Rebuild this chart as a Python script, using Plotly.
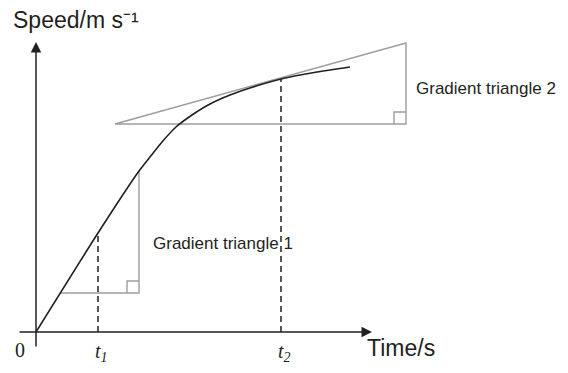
import plotly.graph_objects as go

# speed-time curve (arbitrary units, origin at 0,0)
time = [0, 6.2, 10.3, 11.4, 12.6, 14.0, 15.6, 17.4, 19.4, 21.7, 24.5, 28.1, 31.4]
speed = [0, 9.9, 16.1, 17.5, 19.0, 20.5, 21.7, 22.8, 23.7, 24.5, 25.3, 26.0, 26.5]

# instants where gradients are taken
t_marks = [6.2, 24.5]
t_speeds = [9.9, 25.3]
t_labels = ["t<sub>1</sub>", "t<sub>2</sub>"]

# gradient triangles: corners (x0, x1) and (y0, y1)
tri1_x = [2.4, 10.3]
tri1_y = [3.9, 16.1]
tri2_x = [7.9, 37.0]
tri2_y = [20.8, 28.9]
sq = 1.2  # right-angle box

# axis extents
xaxis_ext = [-1.8, 33.6]
yaxis_ext = [-1.6, 29.0]

BLACK = "#231f20"
GREY = "#9d9d9d"
SANS = "Liberation Sans, Arial, sans-serif"
SERIF = "Liberation Serif, Times New Roman, serif"

fig = go.Figure()

# triangle 1 (hypotenuse is the curve itself)
fig.add_trace(go.Scatter(
    x=[tri1_x[0], tri1_x[1], tri1_x[1]], y=[tri1_y[0], tri1_y[0], tri1_y[1]],
    mode="lines", line=dict(color=GREY, width=1.4), hoverinfo="skip"))
fig.add_trace(go.Scatter(
    x=[tri1_x[1] - sq, tri1_x[1] - sq, tri1_x[1]], y=[tri1_y[0], tri1_y[0] + sq, tri1_y[0] + sq],
    mode="lines", line=dict(color=GREY, width=1.4), hoverinfo="skip"))

# triangle 2 (tangent at t2)
fig.add_trace(go.Scatter(
    x=[tri2_x[0], tri2_x[1], tri2_x[1], tri2_x[0]], y=[tri2_y[0], tri2_y[0], tri2_y[1], tri2_y[0]],
    mode="lines", line=dict(color=GREY, width=1.4), hoverinfo="skip"))
fig.add_trace(go.Scatter(
    x=[tri2_x[1] - sq, tri2_x[1] - sq, tri2_x[1]], y=[tri2_y[0], tri2_y[0] + sq, tri2_y[0] + sq],
    mode="lines", line=dict(color=GREY, width=1.4), hoverinfo="skip"))

# dashed drop lines
for tx, ty in zip(t_marks, t_speeds):
    fig.add_trace(go.Scatter(
        x=[tx, tx], y=[0, ty], mode="lines",
        line=dict(color=BLACK, width=1.5, dash="6px,4px"), hoverinfo="skip"))

# the curve
fig.add_trace(go.Scatter(
    x=time, y=speed, mode="lines", line=dict(color=BLACK, width=1.6, shape="spline", smoothing=0.6),
    hoverinfo="skip"))

# axes with arrows
fig.add_annotation(x=xaxis_ext[1], y=0, ax=xaxis_ext[0], ay=0, xref="x", yref="y",
                   axref="x", ayref="y", text="", showarrow=True, arrowhead=2,
                   arrowsize=1.4, arrowwidth=1.5, arrowcolor=BLACK)
fig.add_annotation(x=0, y=yaxis_ext[1], ax=0, ay=yaxis_ext[0], xref="x", yref="y",
                   axref="x", ayref="y", text="", showarrow=True, arrowhead=2,
                   arrowsize=1.4, arrowwidth=1.5, arrowcolor=BLACK)

# labels
fig.add_annotation(x=-2.5, y=31.2, text="Speed/m s\u207b\u00b9", showarrow=False,
                   xanchor="left", yanchor="middle", font=dict(family=SANS, size=23, color=BLACK))
fig.add_annotation(x=32.9, y=-1.55, text="Time/s", showarrow=False,
                   xanchor="left", yanchor="middle", font=dict(family=SANS, size=23, color=BLACK))
fig.add_annotation(x=-1.6, y=-1.8, text="0", showarrow=False,
                   xanchor="center", yanchor="middle", font=dict(family=SERIF, size=20, color=BLACK))
for tx, lab in zip(t_marks, t_labels):
    fig.add_annotation(x=tx - 0.5, y=-2.0, text="<i>" + lab + "</i>", showarrow=False,
                       xanchor="left", yanchor="middle", font=dict(family=SERIF, size=20, color=BLACK))
fig.add_annotation(x=11.5, y=8.85, text="Gradient triangle 1", showarrow=False,
                   xanchor="left", yanchor="middle", font=dict(family=SANS, size=17, color=BLACK))
fig.add_annotation(x=37.8, y=24.4, text="Gradient triangle 2", showarrow=False,
                   xanchor="left", yanchor="middle", font=dict(family=SANS, size=17, color=BLACK))

# page body keeps an 8px margin, so the figure is 8px smaller than the window
fig.update_layout(
    width=560, height=365,
    margin=dict(l=0, r=0, t=0, b=0),
    paper_bgcolor="white", plot_bgcolor="white",
    showlegend=False,
    xaxis=dict(range=[-2.8, 53.2], visible=False, fixedrange=True),
    yaxis=dict(range=[-4.1, 32.4], visible=False, fixedrange=True),
)

fig.write_html("out.html")
